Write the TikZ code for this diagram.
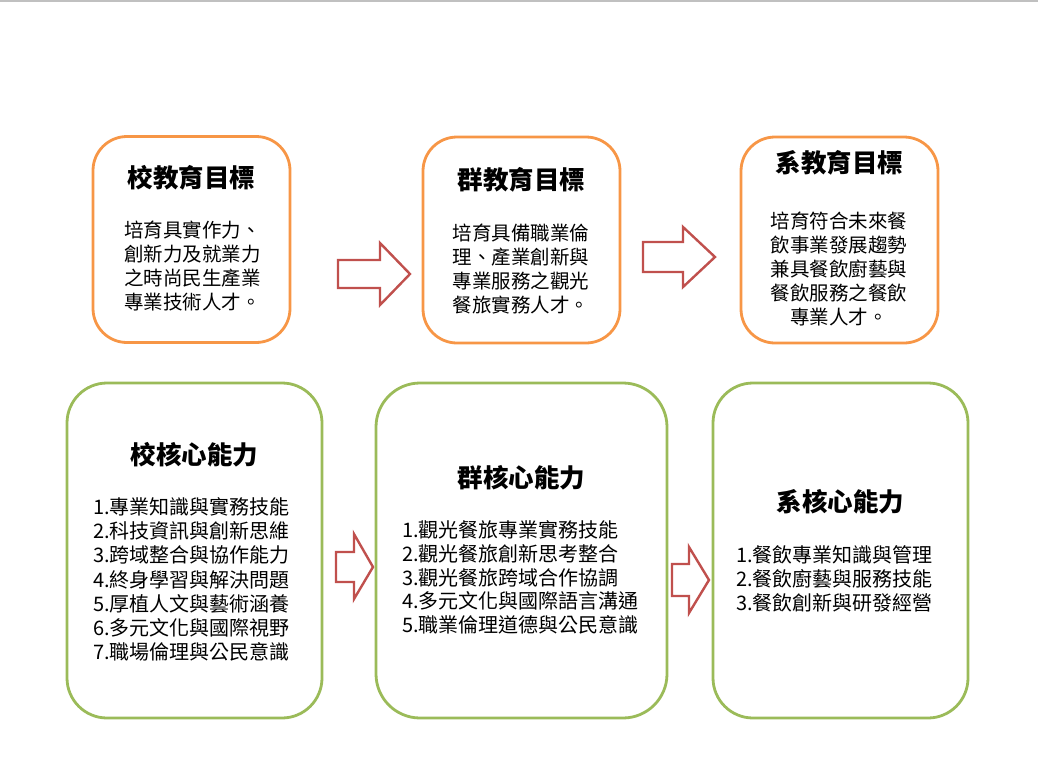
\documentclass[tikz,border=0pt]{standalone}
\usepackage{fontspec}
\setmainfont{Noto Sans CJK TC}
\definecolor{orangeC}{HTML}{F79646}
\definecolor{greenC}{HTML}{9BBB59}
\definecolor{redC}{HTML}{C0504D}
\definecolor{topline}{HTML}{C0C0C0}
\begin{document}
\begin{tikzpicture}[x=1pt,y=-1pt,
  goalbox/.style={draw=orangeC, line width=2.8pt, rounded corners=34pt, fill=white, inner sep=0pt},
  corebox/.style={draw=greenC, line width=2.8pt, rounded corners=40pt, fill=white, inner sep=0pt},
  titletext/.style={font=\fontsize{25.5}{28}\selectfont\bfseries, inner sep=0pt},
  bodytext/.style={font=\fontsize{19.5}{24}\selectfont, align=center, inner sep=0pt},
  listtext/.style={font=\fontsize{20}{24}\selectfont, align=left, inner sep=0pt, anchor=west},
  blockarrow/.style={draw=redC, line width=2.4pt, fill=white, line join=miter}]
\useasboundingbox (0,0) rectangle (1038,779);
\fill[topline] (0,0) rectangle (1038,1.6);

% top row: education goals
\node[goalbox, minimum width=197pt, minimum height=206pt] (g1) at (191.5,239.5) {};
\node[goalbox, minimum width=197pt, minimum height=206pt] (g2) at (521.5,240) {};
\node[goalbox, minimum width=197pt, minimum height=206pt] (g3) at (839.5,240) {};

\node[titletext] (g1t) at (191.5,178) {校教育目標};
\node[bodytext] (g1b) at (192.5,266) {培育具實作力、\\創新力及就業力\\之時尚民生產業\\專業技術人才。};

\node[titletext] (g2t) at (521.5,180) {群教育目標};
\node[bodytext] (g2b) at (521,269) {培育具備職業倫\\理、產業創新與\\專業服務之觀光\\餐旅實務人才。};

\node[titletext] (g3t) at (839.5,163) {系教育目標};
\node[bodytext] (g3b) at (839,268.5) {培育符合未來餐\\飲事業發展趨勢\\兼具餐飲廚藝與\\餐飲服務之餐飲\\專業人才。};

% bottom row: core competencies
\node[corebox, minimum width=255pt, minimum height=335pt] (c1) at (194.5,550.5) {};
\node[corebox, minimum width=291pt, minimum height=335pt, rounded corners=44pt] (c2) at (521.5,550.5) {};
\node[corebox, minimum width=255pt, minimum height=335pt] (c3) at (840.5,550.5) {};

\node[titletext] (c1t) at (194.5,455) {校核心能力};
\node[listtext, font=\fontsize{20}{24.2}\selectfont] (c1b) at (93,579.5) {1.專業知識與實務技能\\2.科技資訊與創新思維\\3.跨域整合與協作能力\\4.終身學習與解決問題\\5.厚植人文與藝術涵養\\6.多元文化與國際視野\\7.職場倫理與公民意識};

\node[titletext] (c2t) at (521.5,478) {群核心能力};
\node[listtext, font=\fontsize{20}{23.8}\selectfont] (c2b) at (402,577.5) {1.觀光餐旅專業實務技能\\2.觀光餐旅創新思考整合\\3.觀光餐旅跨域合作協調\\4.多元文化與國際語言溝通\\5.職業倫理道德與公民意識};

\node[titletext] (c3t) at (840.5,502) {系核心能力};
\node[listtext] (c3b) at (736,579) {1.餐飲專業知識與管理\\2.餐飲廚藝與服務技能\\3.餐飲創新與研發經營};

% block arrows
\draw[blockarrow] (338,260) -- (380,260) -- (380,243) -- (410,274) -- (380,305) -- (380,288) -- (338,288) -- cycle;
\draw[blockarrow] (643,242) -- (683,242) -- (683,227) -- (715,257) -- (683,287) -- (683,272) -- (643,272) -- cycle;
\draw[blockarrow] (336,552) -- (354,552) -- (354,534) -- (373,567) -- (354,599) -- (354,582) -- (336,582) -- cycle;
\draw[blockarrow] (672,564) -- (689,564) -- (689,547) -- (709,580) -- (689,613) -- (689,596) -- (672,596) -- cycle;
\end{tikzpicture}
\end{document}
